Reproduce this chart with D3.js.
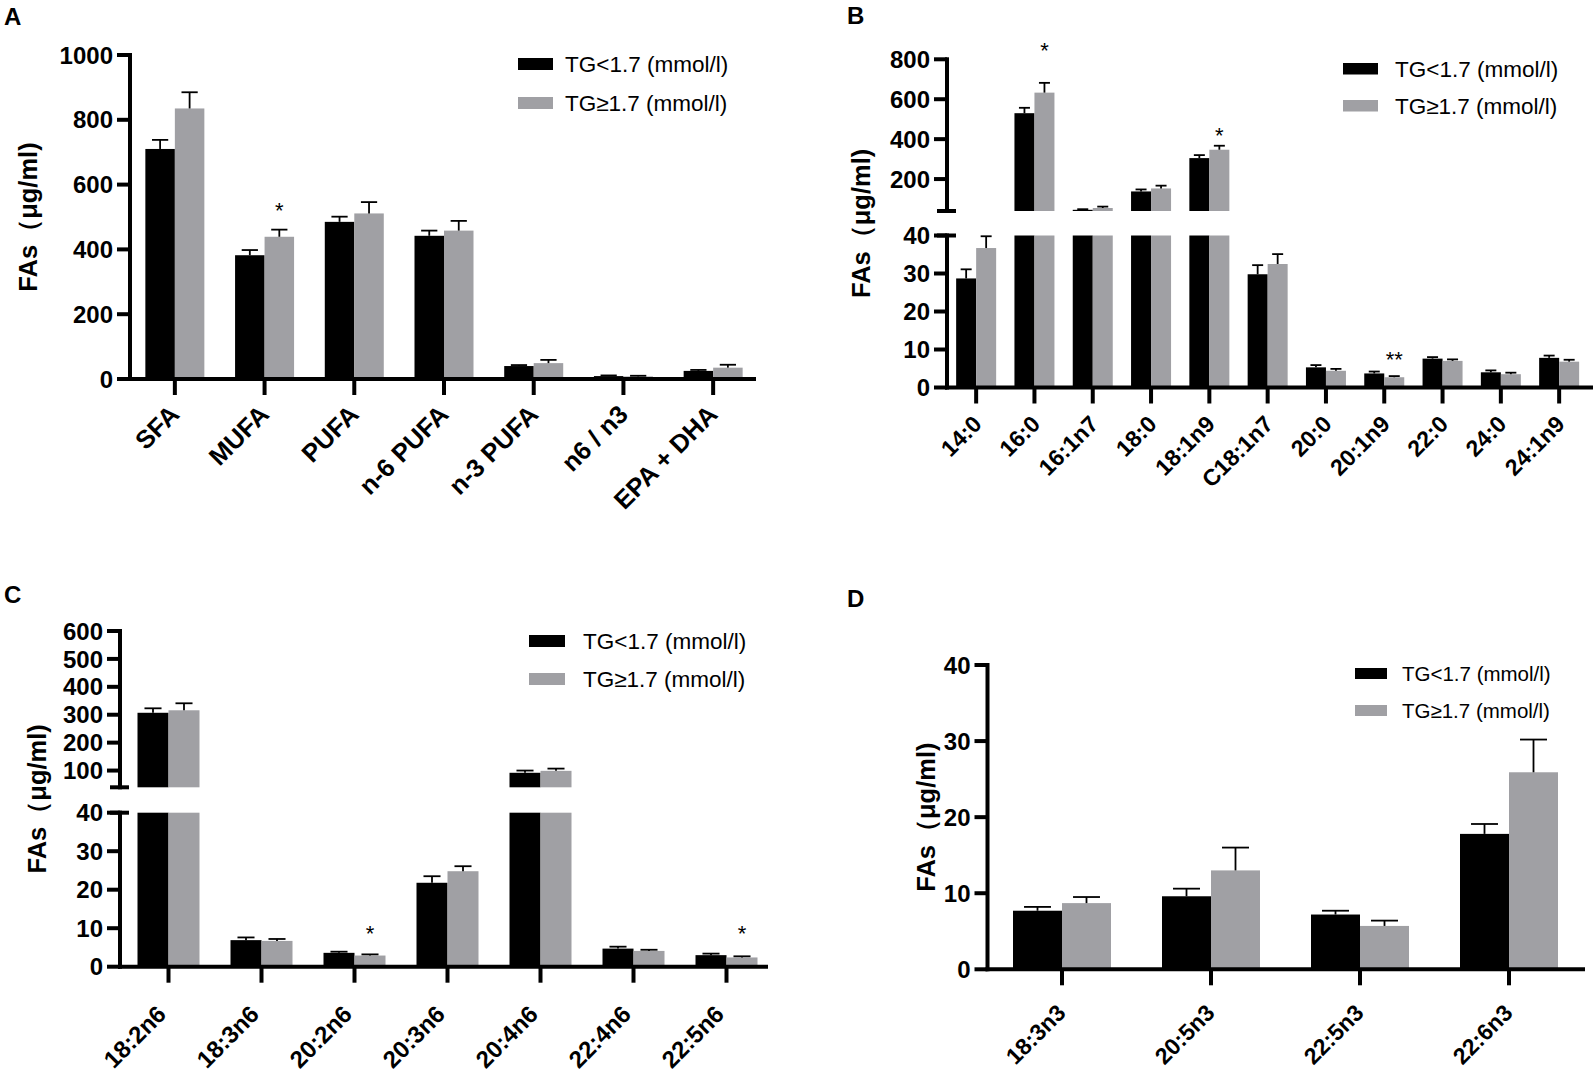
<!DOCTYPE html>
<html>
<head>
<meta charset="utf-8">
<script src="https://cdn.jsdelivr.net/npm/d3@7"></script>
<style>
  body { margin: 0; background: #fff; }
  svg { display: block; font-family: "Liberation Sans", Arial, sans-serif; }
</style>
</head>
<body>
<svg width="1593" height="1080"></svg>
<script>
const groups = ["TG<1.7 (mmol/l)", "TG\u22651.7 (mmol/l)"];
const colors = ["#000000", "#a0a0a4"];
const yTitle = "FAs\uFF08\u03BCg/ml)";

// A: fatty acid classes
const catsA = ["SFA", "MUFA", "PUFA", "n-6 PUFA", "n-3 PUFA", "n6 / n3", "EPA + DHA"];
const lowA = [710, 382, 485, 442, 40, 9, 25];
const lowSemA = [28, 16, 16, 16, 3, 2, 3];
const highA = [835, 439, 511, 458, 49, 8, 35];
const highSemA = [50, 22, 35, 30, 10, 2, 9];
const starsA = [{ cat: "MUFA", mark: "*", at: 538 }];
const ticksA = [0, 200, 400, 600, 800, 1000];

// B: SFA / MUFA species
const catsB = ["14:0", "16:0", "16:1n7", "18:0", "18:1n9", "C18:1n7", "20:0", "20:1n9", "22:0", "24:0", "24:1n9"];
const lowB = [28.7, 530, 46, 138, 305, 29.8, 5.3, 3.7, 7.6, 4.0, 7.8];
const lowSemB = [2.4, 27, 3, 10, 15, 2.4, 0.6, 0.5, 0.4, 0.5, 0.6];
const highB = [36.7, 633, 55, 153, 347, 32.5, 4.4, 2.7, 7.0, 3.5, 6.8];
const highSemB = [3.1, 49, 7, 14, 20, 2.6, 0.5, 0.3, 0.4, 0.4, 0.5];
const starsB = [
  { cat: "16:0", mark: "*", at: 875 },
  { cat: "18:1n9", mark: "*", at: 445 },
  { cat: "20:1n9", mark: "**", at: 8.9 }
];
const ticksBLow = [0, 10, 20, 30, 40];
const ticksBHigh = [200, 400, 600, 800];

// C: n-6 PUFA
const catsC = ["18:2n6", "18:3n6", "20:2n6", "20:3n6", "20:4n6", "22:4n6", "22:5n6"];
const lowC = [307, 6.9, 3.6, 21.8, 92, 4.7, 3.0];
const lowSemC = [16, 0.7, 0.3, 1.7, 8, 0.5, 0.4];
const highC = [316, 6.7, 2.9, 24.8, 99, 4.1, 2.4];
const highSemC = [25, 0.5, 0.3, 1.3, 8, 0.3, 0.3];
const starsC = [
  { cat: "20:2n6", mark: "*", at: 10.1 },
  { cat: "22:5n6", mark: "*", at: 10.1 }
];
const ticksCLow = [0, 10, 20, 30, 40];
const ticksCHigh = [100, 200, 300, 400, 500, 600];

// D: n-3 PUFA
const catsD = ["18:3n3", "20:5n3", "22:5n3", "22:6n3"];
const lowD = [7.7, 9.6, 7.2, 17.8];
const lowSemD = [0.5, 1.0, 0.5, 1.3];
const highD = [8.7, 13.0, 5.7, 25.9];
const highSemD = [0.8, 3.0, 0.7, 4.3];
const ticksD = [0, 10, 20, 30, 40];

const svg = d3.select("svg");
svg.append("rect").attr("width", 1593).attr("height", 1080).attr("fill", "#fff");

function drawPanel(p) {
  const g = svg.append("g");
  const x = d3.scaleBand().domain(p.cats).range(p.xRange);
  const center = c => x(c) + x.bandwidth() / 2;
  const axisX = p.axisX !== undefined ? p.axisX : p.xRange[0];
  const segs = p.segments.map(s => Object.assign({}, s, {
    y: d3.scaleLinear().domain(s.domain).range(s.range)
  }));
  const baseY = segs[0].range[0];
  const capW = p.barW * 0.55;

  const recs = [];
  p.cats.forEach((c, i) => {
    recs.push({ cat: c, k: 0, v: p.low[i], sem: p.lowSem[i] });
    recs.push({ cat: c, k: 1, v: p.high[i], sem: p.highSem[i] });
  });
  const barX = d => center(d.cat) + (d.k === 0 ? -p.barW : 0);
  const midX = d => barX(d) + p.barW / 2;

  segs.forEach(s => {
    const inSeg = recs.filter(d => d.v > s.domain[0]);
    g.append("g").selectAll("rect").data(inSeg).join("rect")
      .attr("x", barX)
      .attr("width", p.barW)
      .attr("y", d => s.y(Math.min(d.v, s.domain[1])))
      .attr("height", d => s.y(s.domain[0]) - s.y(Math.min(d.v, s.domain[1])))
      .attr("fill", d => colors[d.k]);

    const errs = recs.filter(d => d.v >= s.domain[0] && d.v <= s.domain[1]);
    const eg = g.append("g").attr("stroke", "#000").attr("stroke-width", 1.8);
    eg.selectAll("line.v").data(errs).join("line").attr("class", "v")
      .attr("x1", midX).attr("x2", midX)
      .attr("y1", d => s.y(d.v)).attr("y2", d => s.y(d.v + d.sem));
    eg.selectAll("line.c").data(errs).join("line").attr("class", "c")
      .attr("x1", d => midX(d) - capW / 2).attr("x2", d => midX(d) + capW / 2)
      .attr("y1", d => s.y(d.v + d.sem)).attr("y2", d => s.y(d.v + d.sem));

    // y axis segment
    const ag = g.append("g").attr("stroke", "#000").attr("stroke-width", 4);
    ag.append("line")
      .attr("x1", axisX).attr("x2", axisX)
      .attr("y1", s.range[0] + 2).attr("y2", s.range[1] - 2);
    ag.selectAll("line.t").data(s.ticks).join("line").attr("class", "t")
      .attr("x1", axisX - 13).attr("x2", axisX)
      .attr("y1", d => s.y(d)).attr("y2", d => s.y(d));
    g.append("g").selectAll("text").data(s.ticks).join("text")
      .attr("x", axisX - 17)
      .attr("y", d => s.y(d))
      .attr("dy", "0.36em")
      .attr("text-anchor", "end")
      .attr("font-weight", "bold")
      .attr("font-size", 24)
      .text(d => d);
  });

  // break marks between axis segments
  for (let i = 0; i < segs.length - 1; i++) {
    [segs[i].range[1], segs[i + 1].range[0]].forEach(yy => {
      g.append("line")
        .attr("x1", axisX - 10).attr("x2", axisX + 9)
        .attr("y1", yy).attr("y2", yy)
        .attr("stroke", "#000").attr("stroke-width", 4);
    });
  }

  // x axis
  g.append("line")
    .attr("x1", axisX - 2).attr("x2", p.axisEnd)
    .attr("y1", baseY).attr("y2", baseY)
    .attr("stroke", "#000").attr("stroke-width", 4);
  g.append("g").selectAll("line").data(p.cats).join("line")
    .attr("x1", center).attr("x2", center)
    .attr("y1", baseY).attr("y2", baseY + 16)
    .attr("stroke", "#000").attr("stroke-width", 4);
  g.append("g").selectAll("text").data(p.cats).join("text")
    .attr("transform", d => `translate(${center(d) + p.labelDx},${baseY + p.labelDy}) rotate(-45)`)
    .attr("text-anchor", "end")
    .attr("font-weight", "bold")
    .attr("font-size", p.labelFs)
    .text(d => d);

  // significance marks over the second bar
  (p.stars || []).forEach(st => {
    const s = segs.filter(sg => st.at >= sg.domain[0]).pop();
    g.append("text")
      .attr("x", center(st.cat) + p.barW / 2)
      .attr("y", s.y(st.at))
      .attr("dy", "0.6em")
      .attr("text-anchor", "middle")
      .attr("font-size", 22)
      .text(st.mark);
  });

  // legend
  const L = p.legend;
  groups.forEach((name, k) => {
    g.append("rect")
      .attr("x", L.x).attr("y", L.y + k * L.gap)
      .attr("width", L.w).attr("height", L.h)
      .attr("fill", colors[k]);
    g.append("text")
      .attr("x", L.textX).attr("y", L.y + k * L.gap + L.h / 2)
      .attr("dy", "0.36em")
      .attr("font-size", L.fs)
      .text(name);
  });

  // axis title
  const top = segs[segs.length - 1].range[1];
  g.append("text")
    .attr("transform", `translate(${p.titleX},${(top + baseY) / 2}) rotate(-90)`)
    .attr("dy", "0.36em")
    .attr("text-anchor", "middle")
    .attr("font-weight", "bold")
    .attr("font-size", 25.5)
    .text(yTitle);

  // panel letter
  g.append("text")
    .attr("x", p.letterPos[0]).attr("y", p.letterPos[1])
    .attr("font-weight", "bold")
    .attr("font-size", 24)
    .text(p.letter);
}

drawPanel({
  letter: "A", letterPos: [4, 25],
  cats: catsA, low: lowA, lowSem: lowSemA, high: highA, highSem: highSemA, stars: starsA,
  xRange: [130, 758], axisEnd: 756, barW: 29.5,
  segments: [{ domain: [0, 1000], range: [379, 55], ticks: ticksA }],
  legend: { x: 518, y: 58, gap: 39, w: 35, h: 12, textX: 565, fs: 22.5 },
  titleX: 28, labelDx: 6, labelDy: 37, labelFs: 25.5
});

drawPanel({
  letter: "B", letterPos: [847, 24],
  cats: catsB, low: lowB, lowSem: lowSemB, high: highB, highSem: highSemB, stars: starsB,
  xRange: [947, 1588.3], axisEnd: 1593, barW: 20,
  segments: [
    { domain: [0, 40], range: [387.5, 235.5], ticks: ticksBLow },
    { domain: [40, 800], range: [211, 59.3], ticks: ticksBHigh }
  ],
  legend: { x: 1343, y: 63, gap: 37, w: 35, h: 11.5, textX: 1395, fs: 22.5 },
  titleX: 861, labelDx: 7, labelDy: 38, labelFs: 23
});

drawPanel({
  letter: "C", letterPos: [4, 603],
  cats: catsC, low: lowC, lowSem: lowSemC, high: highC, highSem: highSemC, stars: starsC,
  xRange: [122, 773], axisX: 120, axisEnd: 768, barW: 31,
  segments: [
    { domain: [0, 40], range: [966.7, 812.7], ticks: ticksCLow },
    { domain: [40, 600], range: [787.3, 631], ticks: ticksCHigh }
  ],
  legend: { x: 529, y: 635, gap: 38, w: 36, h: 12, textX: 583, fs: 22.5 },
  titleX: 37, labelDx: -1, labelDy: 49, labelFs: 24
});

drawPanel({
  letter: "D", letterPos: [847, 607],
  cats: catsD, low: lowD, lowSem: lowSemD, high: highD, highSem: highSemD, stars: [],
  xRange: [987.5, 1583.5], axisEnd: 1585, barW: 49,
  segments: [{ domain: [0, 40], range: [969.3, 665], ticks: ticksD }],
  legend: { x: 1355, y: 668, gap: 37, w: 32, h: 11, textX: 1402, fs: 20.5 },
  titleX: 926, labelDx: 5, labelDy: 45, labelFs: 23
});
</script>
</body>
</html>
